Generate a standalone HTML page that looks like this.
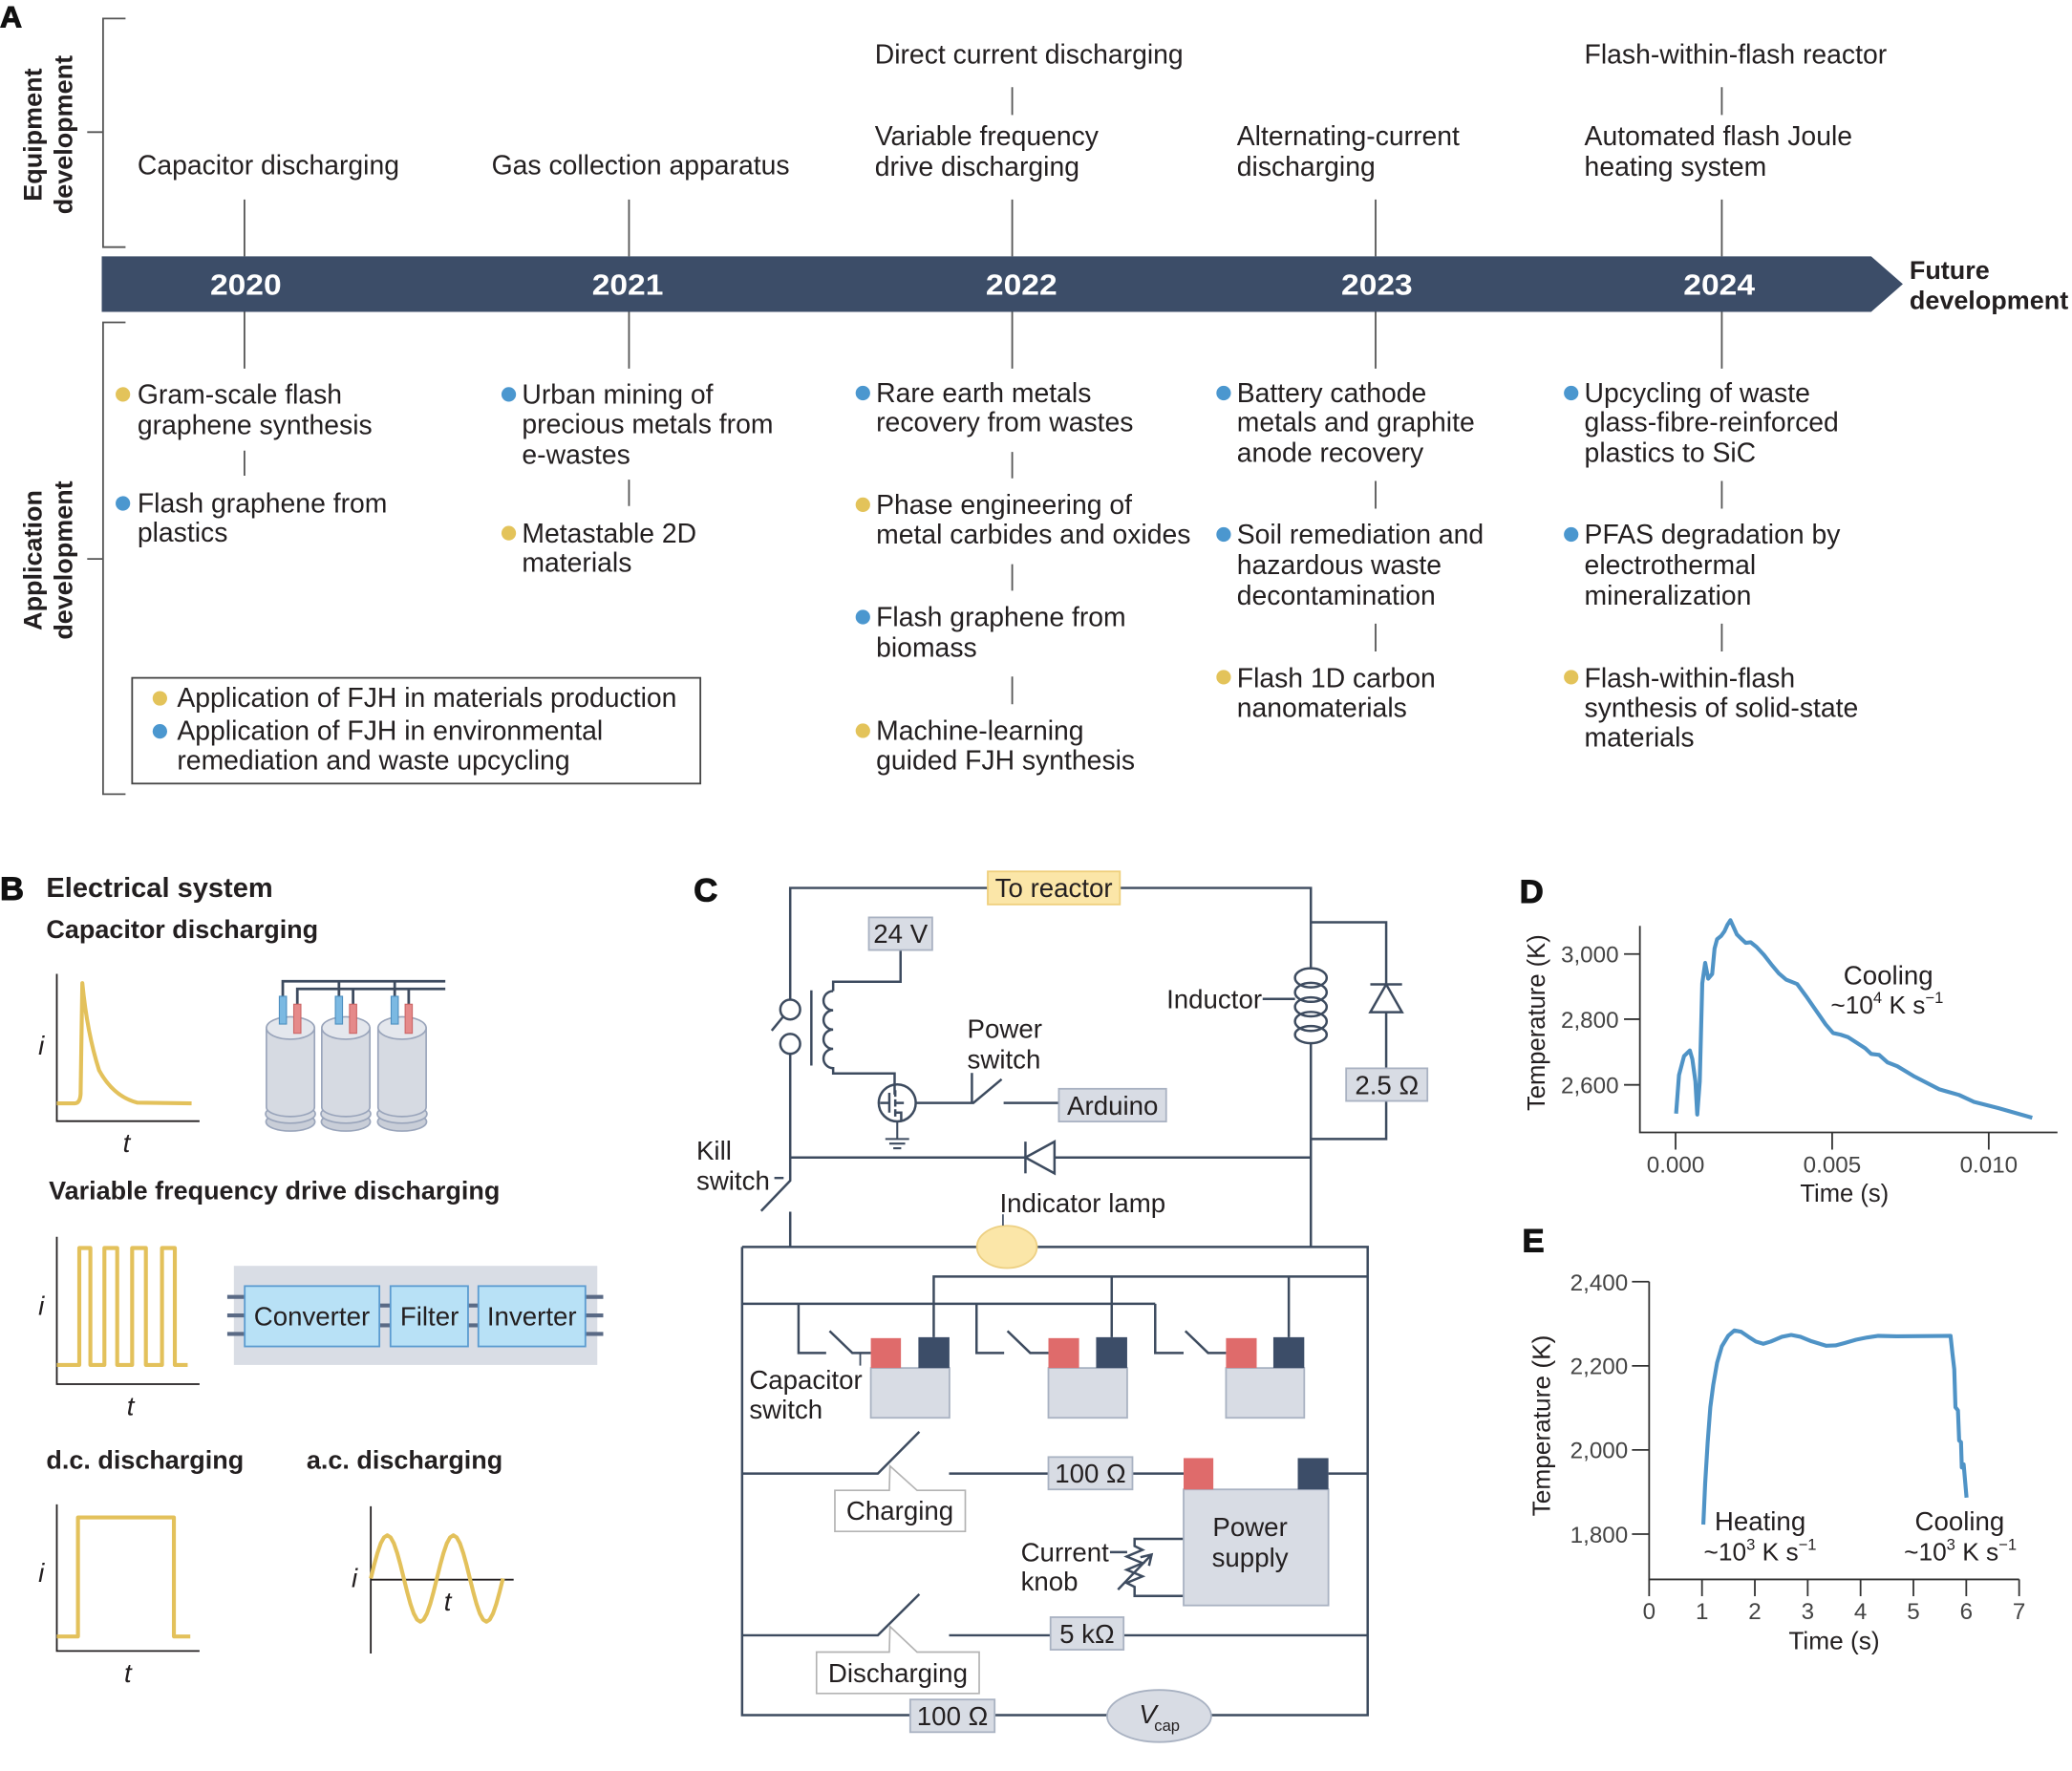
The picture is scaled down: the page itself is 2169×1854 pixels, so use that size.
<!DOCTYPE html>
<html><head><meta charset="utf-8"><style>
html,body{margin:0;padding:0;background:#fff;}
svg{display:block;}
text{font-family:"Liberation Sans",Arial,sans-serif;fill:#231f20;}
.t{font-size:20.5px;}
.c{font-size:20px;}
.h{font-size:19.5px;font-weight:bold;}
.k{font-size:17.5px;fill:#444;}
.big{font-size:25px;font-weight:bold;fill:#111;stroke:#111;stroke-width:0.8;}
.m{text-anchor:middle;}
.e{text-anchor:end;}
.yr{font-size:22px;font-weight:bold;fill:#fff;text-anchor:middle;}
</style></head><body>
<svg width="2169" height="1854" viewBox="0 0 1568 1340.3" preserveAspectRatio="none" xmlns="http://www.w3.org/2000/svg">
<rect width="1568" height="1341" fill="#fff"/>

<!-- ============ PANEL A ============ -->
<text x="0" y="20.5" class="big" style="font-size:23px">A</text>
<g stroke="#555" stroke-width="1.3" fill="none">
 <path d="M95,14 H78 V187 H95 M66,100 H78"/>
 <path d="M95,244 H78 V601 H95 M66,423 H78"/>
 <path d="M185,151V194 M476,151V194 M766,151V194 M1041,151V194 M1303,151V194 M766,66V87 M1303,66V87"/>
 <path d="M185,236V279 M476,236V279 M766,236V279 M1041,236V279 M1303,236V279"/>
 <path d="M185,341V360 M476,363V383 M766,342V362 M766,427V447 M766,512V533 M1041,364V385 M1041,472V493 M1303,364V385 M1303,472V493"/>
</g>
<text transform="translate(31.5,102) rotate(-90)" class="h m">Equipment</text>
<text transform="translate(54.5,102) rotate(-90)" class="h m">development</text>
<text transform="translate(31.5,424) rotate(-90)" class="h m">Application</text>
<text transform="translate(54.5,424) rotate(-90)" class="h m">development</text>

<polygon points="77,194 1416,194 1440,215 1416,236 77,236" fill="#3c4d68"/>
<text x="186" y="223" class="yr" textLength="54" lengthAdjust="spacingAndGlyphs">2020</text>
<text x="475" y="223" class="yr" textLength="54" lengthAdjust="spacingAndGlyphs">2021</text>
<text x="773" y="223" class="yr" textLength="54" lengthAdjust="spacingAndGlyphs">2022</text>
<text x="1042" y="223" class="yr" textLength="54" lengthAdjust="spacingAndGlyphs">2023</text>
<text x="1301" y="223" class="yr" textLength="54" lengthAdjust="spacingAndGlyphs">2024</text>
<text x="1445" y="211" class="h">Future</text>
<text x="1445" y="234" class="h">development</text>

<!-- equipment -->
<text x="104" y="132" class="t">Capacitor discharging</text>
<text x="372" y="132" class="t">Gas collection apparatus</text>
<text x="662" y="48" class="t">Direct current discharging</text>
<text x="662" y="110" class="t">Variable frequency</text>
<text x="662" y="133" class="t">drive discharging</text>
<text x="936" y="110" class="t">Alternating-current</text>
<text x="936" y="133" class="t">discharging</text>
<text x="1199" y="48" class="t">Flash-within-flash reactor</text>
<text x="1199" y="110" class="t">Automated flash Joule</text>
<text x="1199" y="133" class="t">heating system</text>

<!-- applications -->
<g>
<circle cx="93" cy="298.5" r="5.5" fill="#e3c35a"/>
<text x="104" y="305.5" class="t">Gram-scale flash</text>
<text x="104" y="328.5" class="t">graphene synthesis</text>
<circle cx="93" cy="381" r="5.5" fill="#4b97cf"/>
<text x="104" y="388" class="t">Flash graphene from</text>
<text x="104" y="410" class="t">plastics</text>

<circle cx="385" cy="298.5" r="5.5" fill="#4b97cf"/>
<text x="395" y="305.5" class="t">Urban mining of</text>
<text x="395" y="328" class="t">precious metals from</text>
<text x="395" y="351" class="t">e-wastes</text>
<circle cx="385" cy="403.5" r="5.5" fill="#e3c35a"/>
<text x="395" y="410.5" class="t">Metastable 2D</text>
<text x="395" y="432.5" class="t">materials</text>

<circle cx="653" cy="297.5" r="5.5" fill="#4b97cf"/>
<text x="663" y="304.5" class="t">Rare earth metals</text>
<text x="663" y="326.5" class="t">recovery from wastes</text>
<circle cx="653" cy="382" r="5.5" fill="#e3c35a"/>
<text x="663" y="389" class="t">Phase engineering of</text>
<text x="663" y="411.5" class="t">metal carbides and oxides</text>
<circle cx="653" cy="467" r="5.5" fill="#4b97cf"/>
<text x="663" y="474" class="t">Flash graphene from</text>
<text x="663" y="497" class="t">biomass</text>
<circle cx="653" cy="553" r="5.5" fill="#e3c35a"/>
<text x="663" y="560" class="t">Machine-learning</text>
<text x="663" y="582.5" class="t">guided FJH synthesis</text>

<circle cx="926" cy="297.5" r="5.5" fill="#4b97cf"/>
<text x="936" y="304.5" class="t">Battery cathode</text>
<text x="936" y="326.5" class="t">metals and graphite</text>
<text x="936" y="349.5" class="t">anode recovery</text>
<circle cx="926" cy="404.5" r="5.5" fill="#4b97cf"/>
<text x="936" y="411.5" class="t">Soil remediation and</text>
<text x="936" y="434.5" class="t">hazardous waste</text>
<text x="936" y="457.5" class="t">decontamination</text>
<circle cx="926" cy="512.5" r="5.5" fill="#e3c35a"/>
<text x="936" y="520" class="t">Flash 1D carbon</text>
<text x="936" y="542.5" class="t">nanomaterials</text>

<circle cx="1189" cy="297.5" r="5.5" fill="#4b97cf"/>
<text x="1199" y="304.5" class="t">Upcycling of waste</text>
<text x="1199" y="326.5" class="t">glass-fibre-reinforced</text>
<text x="1199" y="349.5" class="t">plastics to SiC</text>
<circle cx="1189" cy="404.5" r="5.5" fill="#4b97cf"/>
<text x="1199" y="411.5" class="t">PFAS degradation by</text>
<text x="1199" y="434.5" class="t">electrothermal</text>
<text x="1199" y="457.5" class="t">mineralization</text>
<circle cx="1189" cy="512.5" r="5.5" fill="#e3c35a"/>
<text x="1199" y="520" class="t">Flash-within-flash</text>
<text x="1199" y="542.5" class="t">synthesis of solid-state</text>
<text x="1199" y="565" class="t">materials</text>
</g>

<rect x="100" y="513" width="430" height="80" fill="none" stroke="#444" stroke-width="1.3"/>
<circle cx="121" cy="528.5" r="5.5" fill="#e3c35a"/>
<text x="134" y="535" class="t">Application of FJH in materials production</text>
<circle cx="121" cy="553.5" r="5.5" fill="#4b97cf"/>
<text x="134" y="560" class="t">Application of FJH in environmental</text>
<text x="134" y="582.5" class="t">remediation and waste upcycling</text>

<!-- ============ PANEL B ============ -->
<text x="0" y="681" class="big">B</text>
<text x="35" y="679" style="font-size:21px;font-weight:bold;">Electrical system</text>
<text x="35" y="710" class="h">Capacitor discharging</text>
<text x="37" y="907.5" class="h">Variable frequency drive discharging</text>
<text x="35" y="1111.5" class="h">d.c. discharging</text>
<text x="232" y="1111.5" class="h">a.c. discharging</text>

<g stroke="#231f20" stroke-width="1.3" fill="none">
 <path d="M43,737 V848.5 H151"/>
 <path d="M43,936 V1047.5 H151"/>
 <path d="M43,1138.5 V1249.5 H151"/>
 <path d="M280.6,1140 V1251.4 M280.6,1195.5 H388.7"/>
</g>
<g stroke="#e3c15b" stroke-width="3" fill="none" stroke-linejoin="round">
 <path d="M43,835 L56.5,835 Q60.5,835 61,828 L62.3,744 Q66,782 75,810 Q86,830 104,834.5 L145,835"/>
 <polyline points="43,1033 60,1033 60,944.5 68.4,944.5 68.4,1033 79,1033 79,944.5 88.7,944.5 88.7,1033 100,1033 100,944.5 110.4,944.5 110.4,1033 122.6,1033 122.6,944.5 132.3,944.5 132.3,1033 142,1033"/>
 <polyline points="43,1238.5 59,1238.5 59,1148.4 131.6,1148.4 131.6,1238.5 144,1238.5"/>
 <polyline points="280.6,1194.6 283.1,1184.5 285.6,1175.4 288.1,1168.1 290.6,1163.5 293.1,1161.9 295.6,1163.5 298.1,1168.1 300.6,1175.4 303.1,1184.5 305.6,1194.6 308.1,1204.7 310.6,1213.8 313.1,1221.1 315.6,1225.7 318.1,1227.3 320.6,1225.7 323.1,1221.1 325.6,1213.8 328.1,1204.7 330.6,1194.6 333.1,1184.5 335.6,1175.4 338.1,1168.1 340.6,1163.5 343.1,1161.9 345.6,1163.5 348.1,1168.1 350.6,1175.4 353.1,1184.5 355.6,1194.6 358.1,1204.7 360.6,1213.8 363.1,1221.1 365.6,1225.7 368.1,1227.3 370.6,1225.7 373.1,1221.1 375.6,1213.8 378.1,1204.7 380.6,1194.6"/>
</g>
<g style="font-size:20px;font-style:italic;">
 <text x="29" y="798">i</text><text x="93" y="872">t</text>
 <text x="29" y="995">i</text><text x="96" y="1071">t</text>
 <text x="29" y="1197">i</text><text x="94" y="1273">t</text>
 <text x="266" y="1201">i</text><text x="336" y="1219">t</text>
</g>

<!-- capacitors -->
<g stroke="#9aa5bb" stroke-width="1.2">
 <g>
  <ellipse cx="219.8" cy="849" rx="18.5" ry="7" fill="#c9ced8"/>
  <ellipse cx="219.8" cy="843" rx="18.8" ry="7" fill="#d3d7df"/>
  <path d="M201.6,778 V838 A18.2,7 0 0 0 238,838 V778 Z" fill="#d6dae2"/>
  <ellipse cx="219.8" cy="778" rx="18.2" ry="8.5" fill="#e4e7ed"/>
 </g>
 <g>
  <ellipse cx="261.7" cy="849" rx="18.5" ry="7" fill="#c9ced8"/>
  <ellipse cx="261.7" cy="843" rx="18.8" ry="7" fill="#d3d7df"/>
  <path d="M243.5,778 V838 A18.2,7 0 0 0 279.9,838 V778 Z" fill="#d6dae2"/>
  <ellipse cx="261.7" cy="778" rx="18.2" ry="8.5" fill="#e4e7ed"/>
 </g>
 <g>
  <ellipse cx="304.3" cy="849" rx="18.5" ry="7" fill="#c9ced8"/>
  <ellipse cx="304.3" cy="843" rx="18.8" ry="7" fill="#d3d7df"/>
  <path d="M286.1,778 V838 A18.2,7 0 0 0 322.5,838 V778 Z" fill="#d6dae2"/>
  <ellipse cx="304.3" cy="778" rx="18.2" ry="8.5" fill="#e4e7ed"/>
 </g>
</g>
<g stroke="#3d4b5f" stroke-width="2" fill="none">
 <path d="M214,754 V742.6 H337 M256.5,754 V742.6 M298.7,754 V742.6"/>
 <path d="M225,760 V748.4 H337 M267.2,760 V748.4 M309.3,760 V748.4"/>
</g>
<g stroke-width="0.8">
 <rect x="211.4" y="754" width="5.4" height="21" fill="#7bb9e2" stroke="#4d8fc0"/>
 <rect x="222.3" y="760" width="5.4" height="22" fill="#e58a8a" stroke="#c66"/>
 <rect x="253.8" y="754" width="5.4" height="21" fill="#7bb9e2" stroke="#4d8fc0"/>
 <rect x="264.5" y="760" width="5.4" height="22" fill="#e58a8a" stroke="#c66"/>
 <rect x="296" y="754" width="5.4" height="21" fill="#7bb9e2" stroke="#4d8fc0"/>
 <rect x="306.6" y="760" width="5.4" height="22" fill="#e58a8a" stroke="#c66"/>
</g>

<!-- VFD block -->
<rect x="177" y="958" width="275" height="75" fill="#d9dde5"/>
<g stroke="#5a6a85" stroke-width="3">
 <path d="M172,981.5 H185 M172,995.5 H185 M172,1009.5 H185"/>
 <path d="M443,981.5 H456.5 M443,995.5 H456.5 M443,1009.5 H456.5"/>
 <path d="M287,988 H295.5 M287,1003 H295.5 M354,988 H362 M354,1003 H362"/>
</g>
<g fill="#b8e1f6" stroke="#5b9bd0" stroke-width="1.3">
 <rect x="185.2" y="973.3" width="101.9" height="45.7"/>
 <rect x="295.5" y="973.3" width="58.7" height="45.7"/>
 <rect x="362" y="973.3" width="81" height="45.7"/>
</g>
<text x="236" y="1003" class="c m">Converter</text>
<text x="325" y="1003" class="c m">Filter</text>
<text x="402.5" y="1003" class="c m">Inverter</text>

<!-- ============ PANEL C ============ -->
<text x="525" y="682" class="big">C</text>
<g stroke="#3d4b5f" stroke-width="1.8" fill="none">
 <!-- top loop -->
 <path d="M598,756.5 V672 H748 M847.5,672 H992 V733.5 M992,789 V943.7"/>
 <path d="M992,698 H1049 V745 M1049,766 V809 M1049,833 V862 H992"/>
 <path d="M1037,745 H1061"/>
 <!-- relay contacts -->
 <circle cx="598" cy="764" r="7.5"/>
 <circle cx="598" cy="790" r="7.5"/>
 <path d="M584,780 L593,769"/>
 <path d="M598,797.5 V893.5 L576,916.5 M598,917 V943.7 M586,891.5 H593"/>
 <!-- diode line -->
 <path d="M598,876 H776 M798,876 H992"/>
 <path d="M776,864 V888"/>
 <!-- 24V & transformer -->
 <path d="M681.5,719 V743 H630.5 V750"/>
 <path d="M630.5,750 a7.3,7.3 0 0 0 0,14.6 a7.3,7.3 0 0 0 0,14.6 a7.3,7.3 0 0 0 0,14.6 a7.3,7.3 0 0 0 0,14.6 V812.4 H677 V820.7"/>
 <path d="M614,749.5 V806.4"/>
 <!-- mosfet -->
 <circle cx="679" cy="834.7" r="14"/>
 <path d="M673,827 V842 M677.5,825 V830 M677.5,832 V837.5 M677.5,839.5 V845 M677,820.7 V827.5 H677.5 M677.5,842 H682 V848.7 M677.5,834.7 H684"/>
 <path d="M679,848.7 V862 M670,862 H688 M673,865.5 H685 M676,869 H682" stroke-width="1.5"/>
 <path d="M673,834.7 H666" />
 <path d="M693,834.7 H736.6 L758,816.8 M759.5,834.7 H801.3"/>
 <path d="M735.5,812 V834"/>
 <!-- inductor -->
 <ellipse cx="992" cy="740" rx="12" ry="7.2"/>
 <ellipse cx="992" cy="751" rx="12" ry="7.2"/>
 <ellipse cx="992" cy="762" rx="12" ry="7.2"/>
 <ellipse cx="992" cy="773" rx="12" ry="7.2"/>
 <ellipse cx="992" cy="783" rx="12" ry="6.5"/>
 <path d="M955.5,756 H980"/>
 <!-- lower box -->
 <path d="M561.6,943.7 H739.3 M784.7,943.7 H1035 V1298 H916.6 M837.8,1298 H752.7 M688.8,1298 H561.6 V943.7"/>
 <path d="M706.6,1012 V966.1 H1035 M841.3,1012 V966.1 M975.3,1012 V966.1"/>
 <path d="M561.6,986.7 H874.2"/>
 <path d="M604.3,986.7 V1023.9 H625.2 M627.8,1007.3 L645,1023.9 H659"/>
 <path d="M739,986.7 V1023.9 H759.9 M762.4,1007.3 L779.6,1023.9 H793.4"/>
 <path d="M874.2,986.7 V1023.9 H895.7 M897,1007.3 L914.2,1023.9 H927.8"/>
 <path d="M651,1024 V1033.5" stroke-width="1.3"/>
 <!-- charging -->
 <path d="M561.6,1115.2 H664.3 L695.7,1083.6 M718.2,1115.2 H793.4 M857,1115.2 H895.7 M1005.3,1115.2 H1035"/>
 <!-- discharging -->
 <path d="M561.6,1237.6 H664.3 L695.7,1206.5 M718.2,1237.6 H795 M850.3,1237.6 H1035"/>
 <!-- current knob -->
 <path d="M895.7,1164.6 H858.6 V1170 L864.6,1173 L852.6,1178 L864.6,1183 L852.6,1188 L864.6,1193 L852.6,1198 L858.6,1201 V1207.8 H895.7"/>
 <path d="M846,1203 L871,1177 M863,1178.5 L871.5,1176.5 L869.5,1185" />
 <path d="M840,1174.7 H853"/>
</g>
<!-- diodes -->
<polygon points="1049,745 1061,766 1037,766" fill="#fff" stroke="#3d4b5f" stroke-width="1.8"/>
<polygon points="776,876 798,864 798,888" fill="#fff" stroke="#3d4b5f" stroke-width="1.8"/>
<!-- lamp -->
<ellipse cx="762" cy="943.7" rx="22.7" ry="16" fill="#fbe6a8" stroke="#edd083" stroke-width="1.3"/>
<path d="M759,919 V927.5" stroke="#3d4b5f" stroke-width="1.2"/>
<!-- boxes -->
<rect x="747.5" y="659.5" width="100" height="25" fill="#fbe6a8" stroke="#efcf7c" stroke-width="1.3"/>
<g fill="#d8dce4" stroke="#a9b2c2" stroke-width="1.3">
 <rect x="657.5" y="694.3" width="48" height="24.7"/>
 <rect x="801.3" y="824" width="81.2" height="24.8"/>
 <rect x="1018.7" y="808.5" width="61.5" height="24.7"/>
 <rect x="793.4" y="1102.7" width="63.6" height="24.5"/>
 <rect x="795" y="1223.9" width="55.3" height="24.6"/>
 <rect x="688.8" y="1286.2" width="63.9" height="24.7"/>
 <rect x="659" y="1035.3" width="59.5" height="37.7"/>
 <rect x="793.4" y="1035.3" width="59.6" height="37.7"/>
 <rect x="927.8" y="1035.3" width="59.2" height="37.7"/>
 <rect x="895.7" y="1127.2" width="109.6" height="87.8"/>
 <ellipse cx="877.2" cy="1298.7" rx="39.4" ry="19.7"/>
</g>
<g fill="#df6b6b">
 <rect x="659" y="1012.7" width="22.8" height="22.6"/>
 <rect x="793.4" y="1012.7" width="23.2" height="22.6"/>
 <rect x="927.8" y="1012.7" width="23.2" height="22.6"/>
 <rect x="895.7" y="1103.5" width="22.5" height="23.7"/>
</g>
<g fill="#3c4d68">
 <rect x="695" y="1012" width="23.5" height="23.3"/>
 <rect x="829.5" y="1012" width="23.5" height="23.3"/>
 <rect x="963.6" y="1012" width="23.4" height="23.3"/>
 <rect x="982.1" y="1103.5" width="23.2" height="23.7"/>
</g>
<!-- callouts -->
<path d="M631.8,1127.9 H673 L673.5,1109.5 L694,1127.9 H730.5 V1159 H631.8 Z" fill="#fff" stroke="#b3b3b3" stroke-width="1.2"/>
<path d="M617.9,1250.3 H673 L673.5,1231 L694,1250.3 H741 V1281.6 H617.9 Z" fill="#fff" stroke="#b3b3b3" stroke-width="1.2"/>

<text x="797.5" y="679" class="c m">To reactor</text>
<text x="681.5" y="713.5" class="c m">24 V</text>
<text x="842" y="843.5" class="c m">Arduino</text>
<text x="1049.5" y="828" class="c m">2.5 Ω</text>
<text x="955" y="763" class="c e">Inductor</text>
<text x="732" y="785.5" class="c">Power</text>
<text x="732" y="808.5" class="c">switch</text>
<text x="527" y="877.5" class="c">Kill</text>
<text x="527" y="900.5" class="c">switch</text>
<text x="756.5" y="917.5" class="c">Indicator lamp</text>
<text x="567" y="1051" class="c">Capacitor</text>
<text x="567" y="1073.5" class="c">switch</text>
<text x="825.2" y="1122" class="c m">100 Ω</text>
<text x="681" y="1150" class="c m">Charging</text>
<text x="946" y="1162.5" class="c m">Power</text>
<text x="946" y="1185.5" class="c m">supply</text>
<text x="772.5" y="1181.5" class="c">Current</text>
<text x="772.5" y="1203.5" class="c">knob</text>
<text x="822.6" y="1243.5" class="c m">5 kΩ</text>
<text x="679.5" y="1273" class="c m">Discharging</text>
<text x="720.8" y="1305.5" class="c m">100 Ω</text>
<text x="862" y="1304" style="font-size:20px;font-style:italic;">V</text>
<text x="873.5" y="1310" style="font-size:12px;">cap</text>

<!-- ============ PANEL D ============ -->
<text x="1150" y="683" class="big">D</text>
<g stroke="#333" stroke-width="1.3" fill="none">
 <path d="M1241,700.7 V857 H1557"/>
 <path d="M1229,722 H1241 M1229,771.3 H1241 M1229,821 H1241"/>
 <path d="M1268,857 V870 M1386.5,857 V870 M1505,857 V870"/>
</g>
<text x="1225" y="728.5" class="k e">3,000</text>
<text x="1225" y="777.8" class="k e">2,800</text>
<text x="1225" y="827.5" class="k e">2,600</text>
<text x="1268" y="887.5" class="k m">0.000</text>
<text x="1386.5" y="887.5" class="k m">0.005</text>
<text x="1505" y="887.5" class="k m">0.010</text>
<text x="1395.8" y="909.5" class="m" style="font-size:18.5px">Time (s)</text>
<text transform="translate(1169,774) rotate(-90)" class="m" style="font-size:18.5px">Temperature (K)</text>
<polyline fill="none" stroke="#4f93c6" stroke-width="3" stroke-linejoin="round" points="1268.4,842.8 1270.6,813.6 1274.4,799.3 1278.8,795.0 1280.7,801.6 1283.0,818.4 1284.4,843.5 1286.3,818.4 1288.2,744.2 1290.4,728.7 1292.7,740.7 1295.7,737.1 1297.5,717.9 1299.4,710.8 1302.4,708.4 1305.0,704.8 1307.2,700.0 1309.5,696.4 1311.7,701.2 1314.4,707.2 1318.1,710.8 1321.1,713.6 1324.8,713.1 1329.3,716.7 1334.9,722.7 1340.5,729.9 1346.1,736.6 1351.7,741.4 1360.0,744.7 1366.7,753.8 1374.2,764.6 1381.6,775.3 1387.2,781.8 1392.8,783.0 1398.5,784.9 1404.1,788.5 1411.5,793.3 1416.0,797.6 1422.0,798.3 1428.4,804.0 1435.8,806.9 1448.9,814.8 1467.6,824.4 1482.6,828.7 1493.8,833.9 1512.5,838.7 1537.9,845.9"/>
<text x="1429" y="745" class="c m">Cooling</text>
<text x="1428" y="767" class="m" style="font-size:19px">~10<tspan font-size="12" dy="-8">4</tspan><tspan dy="8"> K s</tspan><tspan font-size="12" dy="-8">−1</tspan></text>

<!-- ============ PANEL E ============ -->
<text x="1152" y="947.5" class="big">E</text>
<g stroke="#333" stroke-width="1.3" fill="none">
 <path d="M1248,970 V1195.3 H1528"/>
 <path d="M1235,970 H1248 M1235,1033.7 H1248 M1235,1097.3 H1248 M1235,1161 H1248"/>
 <path d="M1248,1195.3 V1208 M1288,1195.3 V1208 M1328,1195.3 V1208 M1368,1195.3 V1208 M1408,1195.3 V1208 M1448,1195.3 V1208 M1488,1195.3 V1208 M1528,1195.3 V1208"/>
</g>
<text x="1232" y="976.5" class="k e">2,400</text>
<text x="1232" y="1040" class="k e">2,200</text>
<text x="1232" y="1103.5" class="k e">2,000</text>
<text x="1232" y="1167.5" class="k e">1,800</text>
<g class="k m">
 <text x="1248" y="1225.5" class="k m">0</text>
 <text x="1288" y="1225.5" class="k m">1</text>
 <text x="1328" y="1225.5" class="k m">2</text>
 <text x="1368" y="1225.5" class="k m">3</text>
 <text x="1408" y="1225.5" class="k m">4</text>
 <text x="1448" y="1225.5" class="k m">5</text>
 <text x="1488" y="1225.5" class="k m">6</text>
 <text x="1528" y="1225.5" class="k m">7</text>
</g>
<text x="1388" y="1248" class="m" style="font-size:19px">Time (s)</text>
<text transform="translate(1173,1079) rotate(-90)" class="m" style="font-size:19px">Temperature (K)</text>
<polyline fill="none" stroke="#4f93c6" stroke-width="3" stroke-linejoin="round" points="1289.0,1153.8 1290.4,1122.6 1292.3,1091.4 1294.3,1065.0 1296.5,1048.2 1299.4,1031.4 1303.0,1018.9 1307.8,1011.0 1312.5,1006.9 1317.6,1007.9 1323.2,1011.7 1328.8,1015.3 1334.4,1017.0 1340.0,1015.3 1348.5,1011.7 1355.5,1010.3 1362.5,1011.7 1370.9,1015.1 1382.1,1018.5 1389.1,1018.2 1396.2,1016.3 1404.6,1013.9 1413.0,1012.2 1421.4,1011.0 1435.4,1011.3 1476.1,1011.0 1477.5,1024.2 1478.9,1036.2 1479.8,1065.0 1481.7,1067.4 1482.6,1090.2 1484.0,1091.4 1484.6,1110.6 1486.0,1108.2 1488.2,1133.4"/>
<text x="1332" y="1158" class="c m">Heating</text>
<text x="1332" y="1181" class="m" style="font-size:19px">~10<tspan font-size="12" dy="-8">3</tspan><tspan dy="8"> K s</tspan><tspan font-size="12" dy="-8">−1</tspan></text>
<text x="1483" y="1158" class="c m">Cooling</text>
<text x="1483.5" y="1181" class="m" style="font-size:19px">~10<tspan font-size="12" dy="-8">3</tspan><tspan dy="8"> K s</tspan><tspan font-size="12" dy="-8">−1</tspan></text>
</svg>
</body></html>
